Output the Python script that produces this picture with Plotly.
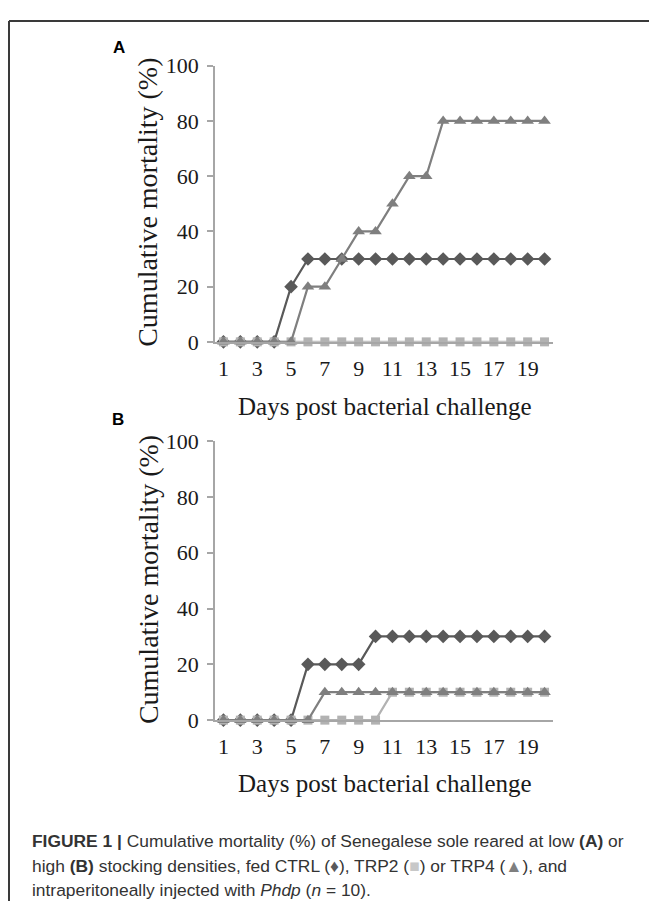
import plotly.graph_objects as go

# page body has an 8px default margin, so the figure is 16px smaller than the window
W, H = 641, 906
OFF = 8

days = list(range(1, 21))
a_ctrl = [0, 0, 0, 0, 20, 30, 30, 30, 30, 30, 30, 30, 30, 30, 30, 30, 30, 30, 30, 30]
a_trp2 = [0] * 20
a_trp4 = [0, 0, 0, 0, 0, 20, 20, 30, 40, 40, 50, 60, 60, 80, 80, 80, 80, 80, 80, 80]
b_ctrl = [0, 0, 0, 0, 0, 20, 20, 20, 20, 30, 30, 30, 30, 30, 30, 30, 30, 30, 30, 30]
b_trp2 = [0, 0, 0, 0, 0, 0, 0, 0, 0, 0, 10, 10, 10, 10, 10, 10, 10, 10, 10, 10]
b_trp4 = [0, 0, 0, 0, 0, 0, 10, 10, 10, 10, 10, 10, 10, 10, 10, 10, 10, 10, 10, 10]
x_ticks = [1, 3, 5, 7, 9, 11, 13, 15, 17, 19]
y_ticks = [0, 20, 40, 60, 80, 100]

C_CTRL = "#595959"
C_TRP2 = "#b2b2b2"
C_TRP4 = "#7f7f7f"
AXC = "#a6a6a6"
SERIF = "Liberation Serif, Times New Roman, serif"
SANS = "Liberation Sans, Arial, sans-serif"


def px(x):
    return (x - OFF) / W


def py(y):
    return 1 - (y - OFF) / H


fig = go.Figure()

panels = [
    ("x", "y", a_ctrl, a_trp2, a_trp4),
    ("x2", "y2", b_ctrl, b_trp2, b_trp4),
]
for xa, ya, c, t2, t4 in panels:
    fig.add_trace(go.Scatter(x=days, y=c, xaxis=xa, yaxis=ya, mode="lines+markers",
                             line=dict(color=C_CTRL, width=2.2),
                             marker=dict(symbol="diamond", size=10.5, color=C_CTRL),
                             cliponaxis=False, showlegend=False))
    fig.add_trace(go.Scatter(x=days, y=t2, xaxis=xa, yaxis=ya, mode="lines+markers",
                             line=dict(color=C_TRP2, width=2.2),
                             marker=dict(symbol="square", size=9, color=C_TRP2),
                             cliponaxis=False, showlegend=False))
    fig.add_trace(go.Scatter(x=days, y=t4, xaxis=xa, yaxis=ya, mode="lines+markers",
                             line=dict(color=C_TRP4, width=2.2),
                             marker=dict(symbol="triangle-up", size=11, color=C_TRP4),
                             cliponaxis=False, showlegend=False))

xdom = [px(215), px(553)]
ydomA = [py(339), py(55)]
ydomB = [py(728), py(441)]

common_x = dict(range=[0.5, 20.5], tickvals=x_ticks, ticktext=[str(v) for v in x_ticks],
                showline=True, linecolor=AXC, linewidth=1.5, showgrid=False, zeroline=False,
                ticks="", tickfont=dict(family=SERIF, size=22, color="#1a1a1a"),
                ticklabelstandoff=6, fixedrange=True)
common_y = dict(range=[0, 100], tickvals=y_ticks, showline=True, linecolor=AXC, linewidth=1.5,
                showgrid=False, zeroline=False, ticks="outside", ticklen=6, tickcolor=AXC,
                tickwidth=1.5, tickfont=dict(family=SERIF, size=22, color="#1a1a1a"),
                ticklabelstandoff=4, fixedrange=True)

fig.update_layout(
    width=W, height=H, margin=dict(l=0, r=0, t=0, b=0),
    paper_bgcolor="white", plot_bgcolor="white",
    xaxis=dict(domain=xdom, anchor="y", **common_x),
    yaxis=dict(domain=ydomA, anchor="x", **common_y),
    xaxis2=dict(domain=xdom, anchor="y2", **common_x),
    yaxis2=dict(domain=ydomB, anchor="x2", **common_y),
)

ann = []
for yc, xt in [(196, 405), (584, 793)]:
    ann.append(dict(text="Cumulative mortality (%)", x=px(148), y=py(yc), xref="paper", yref="paper",
                    textangle=-90, showarrow=False, xanchor="center", yanchor="middle",
                    font=dict(family=SERIF, size=28, color="#1a1a1a")))
    ann.append(dict(text="Days post bacterial challenge", x=px(385), y=py(xt), xref="paper", yref="paper",
                    showarrow=False, xanchor="center", yanchor="middle",
                    font=dict(family=SERIF, size=25, color="#1a1a1a")))
ann.append(dict(text="<b>A</b>", x=px(119), y=py(36), xref="paper", yref="paper", showarrow=False,
                xanchor="center", yanchor="middle", font=dict(family=SANS, size=17, color="black")))
ann.append(dict(text="<b>B</b>", x=px(118), y=py(419), xref="paper", yref="paper", showarrow=False,
                xanchor="center", yanchor="middle", font=dict(family=SANS, size=17, color="black")))

cap_font = dict(family="Liberation Sans, Arial, sans-serif", size=17.4, color="#333333")
cap_lines = [
    "<b>FIGURE 1 |</b> Cumulative mortality (%) of Senegalese sole reared at low <b>(A)</b> or",
    "high <b>(B)</b> stocking densities, fed CTRL (<span style='color:%s'>♦</span>), TRP2 (<span style='color:%s'>■</span>) or TRP4 (<span style='color:%s'>▲</span>), and" % (C_CTRL, "#c8c8c8", C_TRP4),
    "intraperitoneally injected with <i>Phdp</i> (<i>n</i> = 10).",
]
for i, line in enumerate(cap_lines):
    ann.append(dict(text=line, x=px(30), y=py(852 + 25.5 * i), xref="paper", yref="paper",
                    showarrow=False, xanchor="left", yanchor="middle", align="left", font=cap_font))

fig.update_layout(annotations=ann)

fig.update_layout(shapes=[
    dict(type="line", xref="paper", yref="paper", x0=px(9), x1=1.0, y0=py(9), y1=py(9),
         line=dict(color="#3a3a3a", width=2)),
    dict(type="line", xref="paper", yref="paper", x0=px(9), x1=px(9), y0=py(9), y1=0.0,
         line=dict(color="#3a3a3a", width=2)),
])

fig.write_html("out.html")
